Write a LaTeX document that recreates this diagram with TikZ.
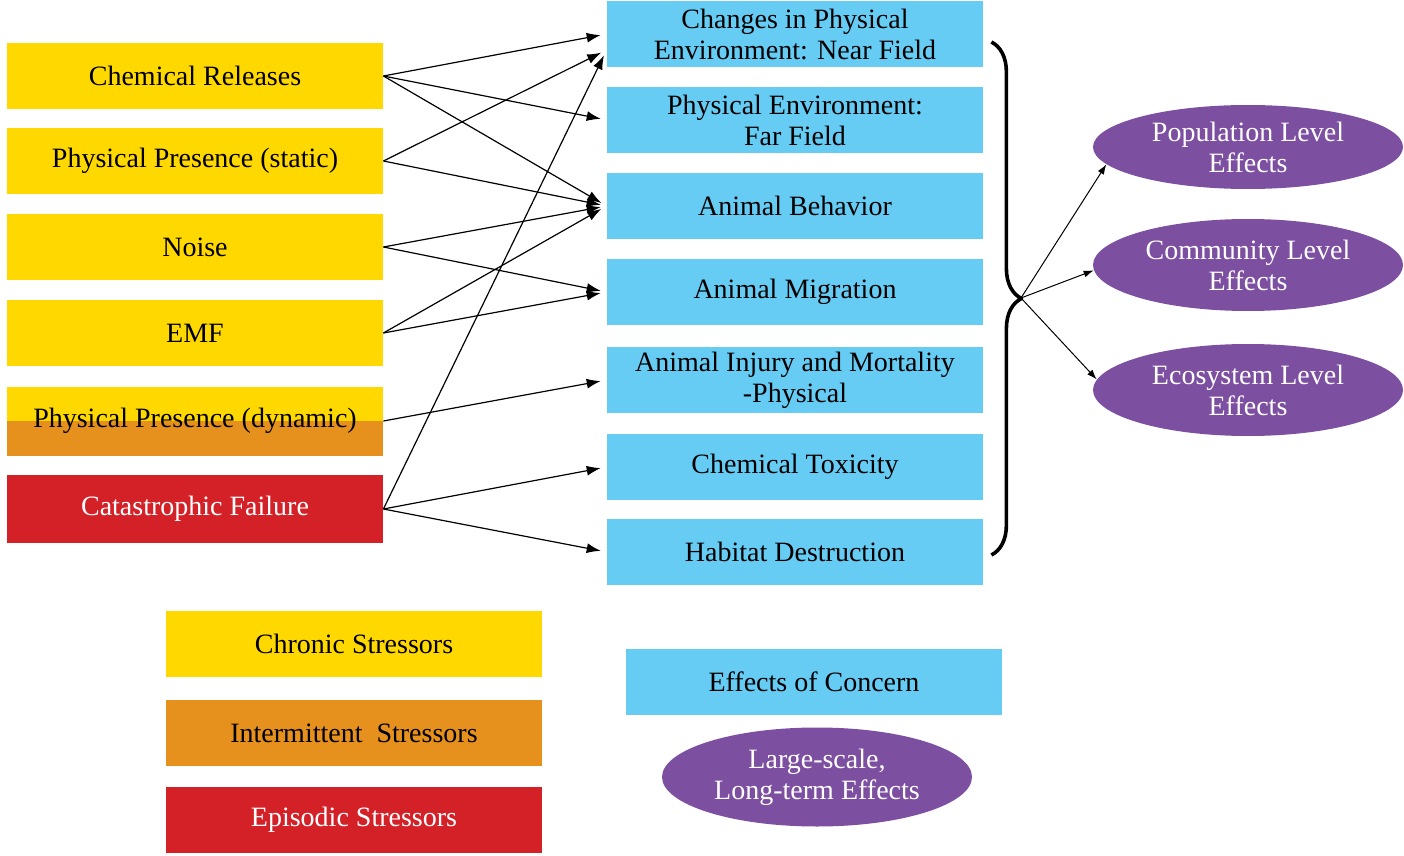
\documentclass[tikz,border=0pt]{standalone}
\usepackage{fontspec}
\setmainfont{Liberation Serif}
\usetikzlibrary{shapes.geometric,arrows.meta,decorations.pathreplacing}
\definecolor{chronic}{RGB}{255,216,0}
\definecolor{intermit}{RGB}{230,145,30}
\definecolor{episodic}{RGB}{212,33,40}
\definecolor{concern}{RGB}{102,204,244}
\definecolor{largescale}{RGB}{124,79,160}
\begin{document}
\begin{tikzpicture}[x=0.5pt,y=-0.5pt,font=\fontsize{14}{15.5}\selectfont,line join=round,>={Latex[length=7pt,width=5pt]},
	stressor/.style={rectangle,minimum width=188pt,minimum height=33pt,inner sep=0pt,fill=chronic},
	effect/.style={rectangle,minimum width=188pt,minimum height=33pt,inner sep=0pt,fill=concern,align=center},
	level/.style={ellipse,minimum width=155pt,minimum height=46pt,inner sep=0pt,fill=largescale,text=white,align=center},
	link/.style={->,line width=0.6pt,shorten >=3pt},
	levellink/.style={->,>={Latex[length=5pt,width=3.5pt]},line width=0.5pt}]
	\useasboundingbox (0,0) rectangle (1404,856);
	% stressors
	\node[stressor] (chem) at (195,76) {Chemical Releases};
	\node[stressor] (static) at (195,161) {Physical Presence (static)};
	\node[stressor] (noise) at (195,247) {Noise};
	\node[stressor] (emf) at (195,333) {EMF};
	\node[stressor,minimum height=34.5pt,path picture={\fill[intermit] (path picture bounding box.west) rectangle (path picture bounding box.south east);}] (dyn) at (195,421) {Physical Presence (dynamic)};
	\node[stressor,minimum height=34pt,fill=episodic,text=white] (cat) at (195,509) {Catastrophic Failure};
	% effects of concern
	\node[effect] (near) at (795,34) {Changes in Physical\\Environment: Near Field};
	\node[effect] (far) at (795,120) {Physical Environment:\\Far Field};
	\node[effect] (behav) at (795,206) {Animal Behavior};
	\node[effect] (migr) at (795,292) {Animal Migration};
	\node[effect] (injury) at (795,380) {Animal Injury and Mortality\\-Physical};
	\node[effect] (tox) at (795,467) {Chemical Toxicity};
	\node[effect] (hab) at (795,552) {Habitat Destruction};
	% large-scale effects
	\node[level,minimum height=42pt] (pop) at (1248,147) {Population Level\\Effects};
	\node[level] (comm) at (1248,265) {Community Level\\Effects};
	\node[level] (eco) at (1248,390) {Ecosystem Level\\Effects};
	% legend
	\node[stressor] (chronicL) at (354,644) {Chronic Stressors};
	\node[stressor,fill=intermit] (intermL) at (354,733) {Intermittent\ \ Stressors};
	\node[stressor,fill=episodic,text=white] (episL) at (354,820) {Episodic Stressors};
	\node[effect] (concernL) at (814,682) {Effects of Concern};
	\node[level,minimum height=49.5pt] (largeL) at (817,777) {Large-scale,\\Long-term Effects};
	% links
	\draw[link] (chem.east) -- (near.west);
	\draw[link] (chem.east) -- (far.west);
	\draw[link] (chem.east) -- (behav.west);
	\draw[link] (static.east) -- ([yshift=-8pt]near.west);
	\draw[link] (static.east) -- (behav.west);
	\draw[link] (noise.east) -- (behav.west);
	\draw[link] (noise.east) -- (migr.west);
	\draw[link] (emf.east) -- (behav.west);
	\draw[link] (emf.east) -- (migr.west);
	\draw[link] (dyn.east) -- (injury.west);
	\draw[link] (cat.east) -- ([yshift=-8pt]near.west);
	\draw[link] (cat.east) -- (tox.west);
	\draw[link] (cat.east) -- (hab.west);
	% brace and fork
	\draw[decorate,decoration={brace,amplitude=15pt},line width=1.8pt] ([xshift=4pt,yshift=-4pt]near.east) -- ([xshift=4pt,yshift=-1.5pt]hab.east);
	\coordinate (fork) at (1021,298);
	\draw[levellink] (fork) -- (pop.187);
	\draw[levellink] (fork) -- (comm.182);
	\draw[levellink] (fork) -- (eco.176);
\end{tikzpicture}
\end{document}
